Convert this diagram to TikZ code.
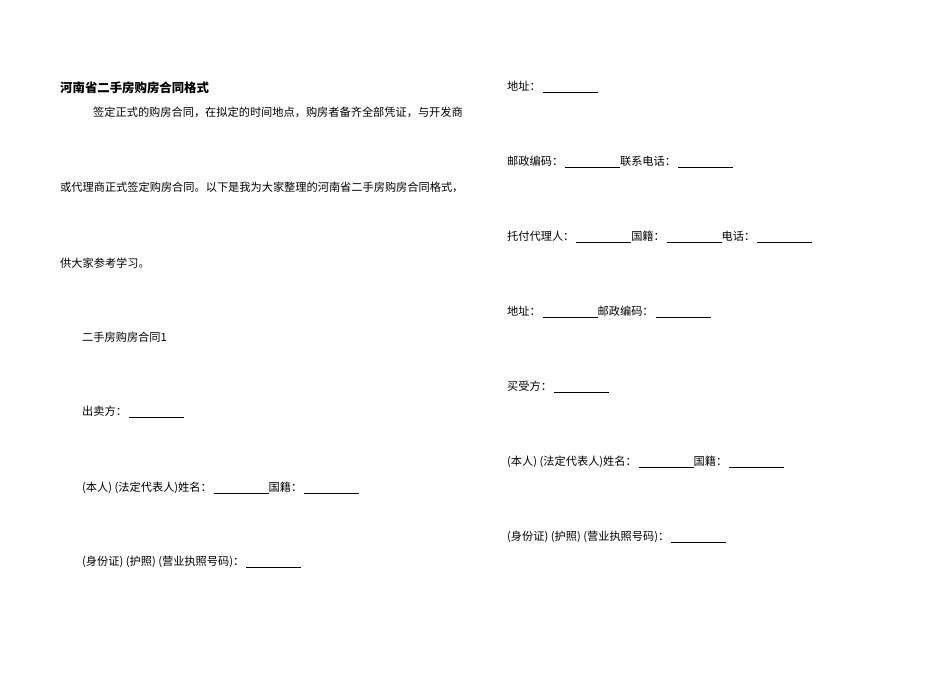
\documentclass[tikz,border=0pt]{standalone}
\usepackage{fontspec}
\setmainfont{Noto Sans CJK SC}
\newcommand{\blk}{\,\rule[-1.5pt]{55pt}{0.4pt}}
\newcommand{\pg}{\hspace{2.5pt}}
\begin{document}
\begin{tikzpicture}[x=1pt,y=1pt,txt/.style={anchor=west,inner sep=0pt,font=\fontsize{11.2}{13}\selectfont}]
\useasboundingbox (0,0) rectangle (950,-672);
\node[txt,font=\fontsize{12.4}{14}\selectfont\bfseries] (t) at (60,-88) {河南省二手房购房合同格式};
\node[txt] (l1) at (93,-112) {签定正式的购房合同，在拟定的时间地点，购房者备齐全部凭证，与开发商};
\node[txt] (l2) at (60,-187) {或代理商正式签定购房合同。以下是我为大家整理的河南省二手房购房合同格式，};
\node[txt] (l3) at (60,-263) {供大家参考学习。};
\node[txt] (l4) at (82,-337) {二手房购房合同1};
\node[txt] (l5) at (82,-412) {出卖方：\blk};
\node[txt] (l6) at (82,-488) {(本人)\pg(法定代表人)姓名：\blk 国籍：\blk};
\node[txt] (l7) at (82,-562) {(身份证)\pg(护照)\pg(营业执照号码)：\blk};
\node[txt] (r1) at (507,-87) {地址：\blk};
\node[txt] (r2) at (507,-162) {邮政编码：\blk 联系电话：\blk};
\node[txt] (r3) at (507,-237) {托付代理人：\blk 国籍：\blk 电话：\blk};
\node[txt] (r4) at (507,-312) {地址：\blk 邮政编码：\blk};
\node[txt] (r5) at (507,-387) {买受方：\blk};
\node[txt] (r6) at (507,-462) {(本人)\pg(法定代表人)姓名：\blk 国籍：\blk};
\node[txt] (r7) at (507,-537) {(身份证)\pg(护照)\pg(营业执照号码)：\blk};
\end{tikzpicture}
\end{document}
